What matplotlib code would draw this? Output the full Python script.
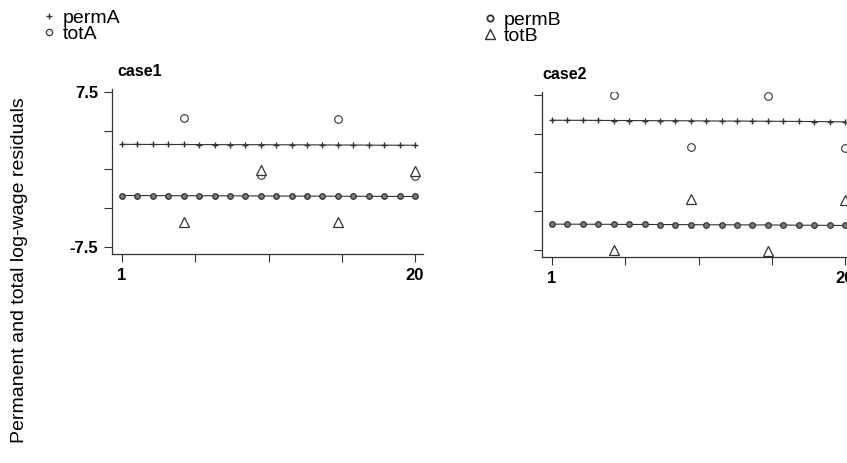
import matplotlib
matplotlib.use('Agg')
from matplotlib import pyplot as plt
from matplotlib.lines import Line2D

plt.rcParams['font.family'] = ['Liberation Sans', 'DejaVu Sans']

# periods
t = list(range(1, 21))
t_tot = [5, 10, 15, 20]

# case1
permA = [2.43, 2.43, 2.42, 2.42, 2.42, 2.41, 2.41, 2.40, 2.40, 2.40,
         2.39, 2.39, 2.38, 2.38, 2.37, 2.37, 2.36, 2.35, 2.35, 2.34]
totA = [4.96, -0.53, 4.89, -0.60]
# case2
permB = [-5.00, -5.00, -5.01, -5.01, -5.02, -5.03, -5.03, -5.04, -5.04, -5.05,
         -5.06, -5.06, -5.07, -5.08, -5.08, -5.09, -5.10, -5.11, -5.12, -5.13]
totB = [-7.53, -2.56, -7.60, -2.66]

# second series drawn in each panel
permA_c2 = [5.06, 5.05, 5.05, 5.04, 5.03, 5.03, 5.02, 5.01, 5.01, 5.00,
            4.99, 4.98, 4.98, 4.97, 4.96, 4.95, 4.94, 4.93, 4.92, 4.90]
totA_c2 = [7.50, 2.46, 7.40, 2.40]
permB_c1 = [-2.52, -2.52, -2.53, -2.53, -2.54, -2.54, -2.55, -2.55, -2.56, -2.56,
            -2.57, -2.57, -2.58, -2.58, -2.59, -2.59, -2.60, -2.60, -2.61, -2.61]
totB_c1 = [-5.05, -0.05, -5.11, -0.10]

yticks = [7.5, 3.75, 0, -3.75, -7.5]
xticks = [1, 5.75, 10.5, 15.25, 20]

INK = '#333333'
W, H = 847, 463


def painel(rect, titulo, pa, ta, pb, tb, rotulos_y, xpad):
    left, top, right, bottom = rect
    ax = plt.gcf().add_axes([left / W, 1 - bottom / H, (right - left) / W, (bottom - top) / H])
    ax.plot(t, pa, color=INK, lw=0.8, marker='+', ms=5, mew=1.0)
    ax.plot(t, pb, color=INK, lw=0.8, marker='o', ms=4, mfc='#7a7a7a', mec=INK, mew=0.9)
    ax.plot(t_tot, ta, ls='none', marker='o', ms=5.5, mfc='white', mec=INK, mew=0.8)
    ax.plot(t_tot, tb, ls='none', marker='^', ms=7.5, mfc='white', mec=INK, mew=0.9)
    ax.set_xlim(0.35, 20.52)
    ax.set_ylim(-8.18, 7.79)
    ax.set_xticks(xticks)
    ax.set_xticklabels(['1', '', '', '', '20'], fontweight='bold', fontsize=12)
    ax.set_yticks(yticks)
    if rotulos_y:
        ax.set_yticklabels(['7.5', '', '', '', '-7.5'], fontweight='bold', fontsize=12)
    else:
        ax.set_yticklabels([])
    ax.tick_params(direction='out', length=6, width=0.8, color=INK, pad=4)
    for s in ('top', 'right'):
        ax.spines[s].set_visible(False)
    for s in ('left', 'bottom'):
        ax.spines[s].set_color(INK)
        ax.spines[s].set_linewidth(0.9)
    ax.text(xpad, 1.06, titulo, transform=ax.transAxes, fontweight='bold',
            fontsize=11.5, ha='left', va='bottom')
    return ax


fig = plt.figure(figsize=(W / 100, H / 100), dpi=100)

painel((112, 89, 423, 254), 'case1', permA, totA, permB_c1, totB_c1, True, 0.016)
painel((542, 92, 853, 257), 'case2', permA_c2, totA_c2, permB, totB, False, 0.0)

fig.text(20 / W, 1 - 270 / H, 'Permanent and total log-wage residuals',
         rotation=90, ha='center', va='center', fontsize=14)

h_perm_a = Line2D([], [], ls='none', marker='+', ms=5, mew=1.0, color=INK)
h_tot_a = Line2D([], [], ls='none', marker='o', ms=4.5, mfc='white', mec=INK, mew=0.9)
h_perm_b = Line2D([], [], ls='none', marker='o', ms=4.5, mfc='white', mec=INK, mew=1.3)
h_tot_b = Line2D([], [], ls='none', marker='^', ms=6.5, mfc='white', mec=INK, mew=1.0)

opts = dict(loc='upper left', frameon=False, fontsize=14, handlelength=0.8,
            handletextpad=0.3, labelspacing=-0.05, borderpad=0, borderaxespad=0)
fig.legend([h_perm_a, h_tot_a], ['permA', 'totA'],
           bbox_to_anchor=(41 / W, 1 - 9 / H), **opts)
fig.legend([h_perm_b, h_tot_b], ['permB', 'totB'],
           bbox_to_anchor=(482 / W, 1 - 11 / H), **opts)

plt.savefig('out.png', dpi=100)
